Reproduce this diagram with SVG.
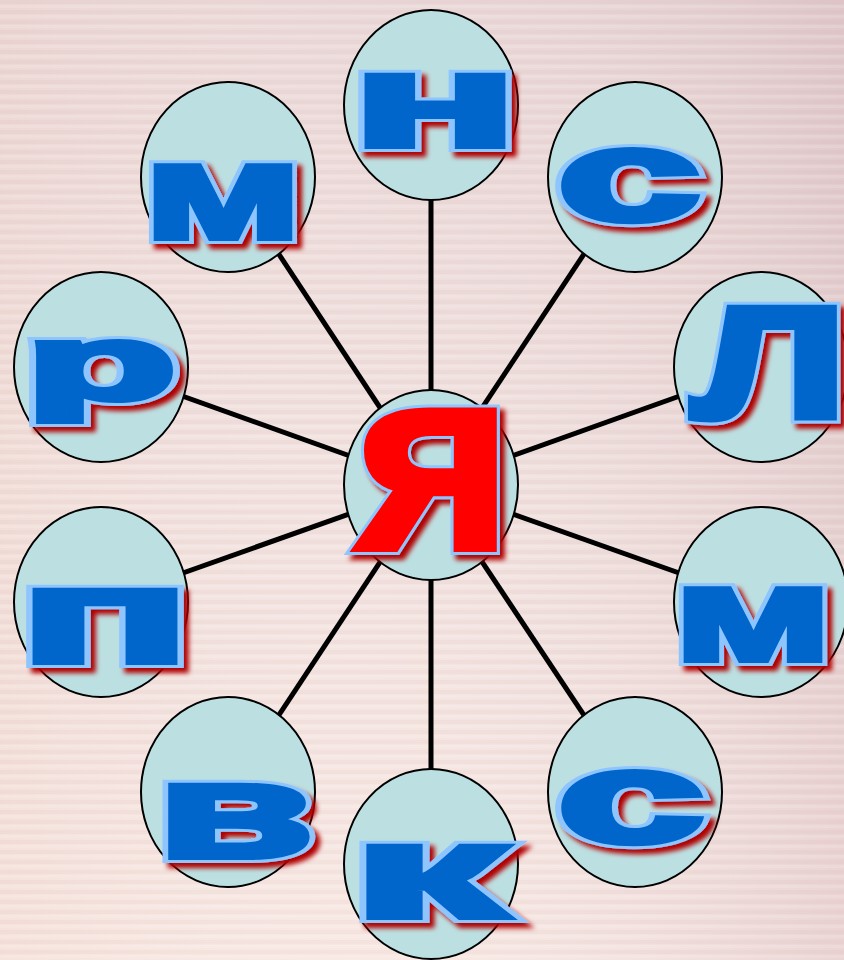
<svg xmlns="http://www.w3.org/2000/svg" width="844" height="960" viewBox="0 0 844 960">
<defs>
<linearGradient id="bg" x1="0" y1="0" x2="0" y2="1">
<stop offset="0" stop-color="#e8d4d4"/>
<stop offset="0.5" stop-color="#f0dfdc"/>
<stop offset="1" stop-color="#f7e6e1"/>
</linearGradient>
<linearGradient id="bg2" x1="0" y1="0" x2="1" y2="0">
<stop offset="0" stop-color="#f4dcd4" stop-opacity="0.35"/>
<stop offset="0.5" stop-color="#ffffff" stop-opacity="0.1"/>
<stop offset="1" stop-color="#c9a8b0" stop-opacity="0.28"/>
</linearGradient>
<pattern id="stripes" x="0" y="0" width="10" height="10" patternUnits="userSpaceOnUse">
<rect x="0" y="0" width="10" height="4" fill="#b89090" opacity="0.08"/>
<rect x="0" y="5" width="10" height="3" fill="#ffffff" opacity="0.12"/>
</pattern>
<filter id="shadow" x="-20%" y="-20%" width="140%" height="140%">
<feGaussianBlur in="SourceAlpha" stdDeviation="2.5" result="b"/>
<feOffset in="b" dx="5" dy="5" result="o"/>
<feFlood flood-color="#b00000"/>
<feComposite in2="o" operator="in" result="s"/>
<feMerge><feMergeNode in="s"/><feMergeNode in="SourceGraphic"/></feMerge>
</filter>
</defs>
<style>
.node ellipse{fill:#bce0e2;stroke:#000;stroke-width:2}
.node text{font-family:"Liberation Sans","Arial",sans-serif;font-weight:bold;text-anchor:middle;stroke-linejoin:miter;stroke-miterlimit:3}
.o{fill:#8ec5ff;stroke:#8ec5ff;stroke-width:12}
.f{fill:#0066cc;stroke:#0066cc;stroke-width:6}
.fr{fill:#ff0000;stroke:#ff0000;stroke-width:6}
.sh{filter:url(#shadow)}
#connectors line{stroke:#000;stroke-width:5}
</style>
<rect width="844" height="960" fill="url(#bg)"/>
<rect width="844" height="960" fill="url(#bg2)"/>
<rect width="844" height="960" fill="url(#stripes)"/>
<g id="connectors">
<line x1="431" y1="485" x2="431" y2="105"/>
<line x1="431" y1="485" x2="228" y2="177"/>
<line x1="431" y1="485" x2="635" y2="177"/>
<line x1="431" y1="485" x2="101" y2="367"/>
<line x1="431" y1="485" x2="761" y2="367"/>
<line x1="431" y1="485" x2="101" y2="602"/>
<line x1="431" y1="485" x2="761" y2="602"/>
<line x1="431" y1="485" x2="228" y2="792"/>
<line x1="431" y1="485" x2="635" y2="792"/>
<line x1="431" y1="485" x2="431" y2="864"/>
</g>
<g id="node-n" class="node"><ellipse cx="431" cy="105" rx="87" ry="95"/><g class="sh"><text class="o" x="435" y="146" font-size="133" textLength="167" lengthAdjust="spacingAndGlyphs">н</text><text class="f" x="435" y="146" font-size="133" textLength="167" lengthAdjust="spacingAndGlyphs">н</text></g></g>
<g id="node-m1" class="node"><ellipse cx="228" cy="177" rx="87" ry="95"/><g class="sh"><text class="o" x="223" y="238" font-size="135" textLength="159" lengthAdjust="spacingAndGlyphs">м</text><text class="f" x="223" y="238" font-size="135" textLength="159" lengthAdjust="spacingAndGlyphs">м</text></g></g>
<g id="node-s1" class="node"><ellipse cx="635" cy="177" rx="87" ry="95"/><g class="sh"><text class="o" x="629" y="220" font-size="130" textLength="144" lengthAdjust="spacingAndGlyphs">с</text><text class="f" x="629" y="220" font-size="130" textLength="144" lengthAdjust="spacingAndGlyphs">с</text></g></g>
<g id="node-r" class="node"><ellipse cx="101" cy="367" rx="87" ry="95"/><g class="sh"><text class="o" x="101" y="399" font-size="105" textLength="150" lengthAdjust="spacingAndGlyphs">р</text><text class="f" x="101" y="399" font-size="105" textLength="150" lengthAdjust="spacingAndGlyphs">р</text></g></g>
<g id="node-l" class="node"><ellipse cx="761" cy="367" rx="87" ry="95"/><g class="sh"><text class="o" x="770" y="418" font-size="208" textLength="162" lengthAdjust="spacingAndGlyphs">л</text><text class="f" x="770" y="418" font-size="208" textLength="162" lengthAdjust="spacingAndGlyphs">л</text></g></g>
<g id="node-p" class="node"><ellipse cx="101" cy="602" rx="87" ry="95"/><g class="sh"><text class="o" x="105" y="662" font-size="135" textLength="172" lengthAdjust="spacingAndGlyphs">п</text><text class="f" x="105" y="662" font-size="135" textLength="172" lengthAdjust="spacingAndGlyphs">п</text></g></g>
<g id="node-m2" class="node"><ellipse cx="761" cy="602" rx="87" ry="95"/><g class="sh"><text class="o" x="753" y="660" font-size="133" textLength="159" lengthAdjust="spacingAndGlyphs">м</text><text class="f" x="753" y="660" font-size="133" textLength="159" lengthAdjust="spacingAndGlyphs">м</text></g></g>
<g id="node-v" class="node"><ellipse cx="228" cy="792" rx="87" ry="95"/><g class="sh"><text class="o" x="235" y="857" font-size="135" textLength="158" lengthAdjust="spacingAndGlyphs">в</text><text class="f" x="235" y="857" font-size="135" textLength="158" lengthAdjust="spacingAndGlyphs">в</text></g></g>
<g id="node-s2" class="node"><ellipse cx="635" cy="792" rx="87" ry="95"/><g class="sh"><text class="o" x="631" y="842" font-size="130" textLength="148" lengthAdjust="spacingAndGlyphs">с</text><text class="f" x="631" y="842" font-size="130" textLength="148" lengthAdjust="spacingAndGlyphs">с</text></g></g>
<g id="node-k" class="node"><ellipse cx="431" cy="864" rx="87" ry="95"/><g class="sh"><text class="o" x="429" y="917" font-size="133" textLength="154" lengthAdjust="spacingAndGlyphs">к</text><text class="f" x="429" y="917" font-size="133" textLength="154" lengthAdjust="spacingAndGlyphs">к</text></g></g>
<g id="node-ya" class="node"><ellipse cx="431" cy="485" rx="87" ry="95"/><g class="sh"><text class="o" x="434" y="549" font-size="262" textLength="157" lengthAdjust="spacingAndGlyphs">я</text><text class="fr" x="434" y="549" font-size="262" textLength="157" lengthAdjust="spacingAndGlyphs">я</text></g></g>
</svg>
